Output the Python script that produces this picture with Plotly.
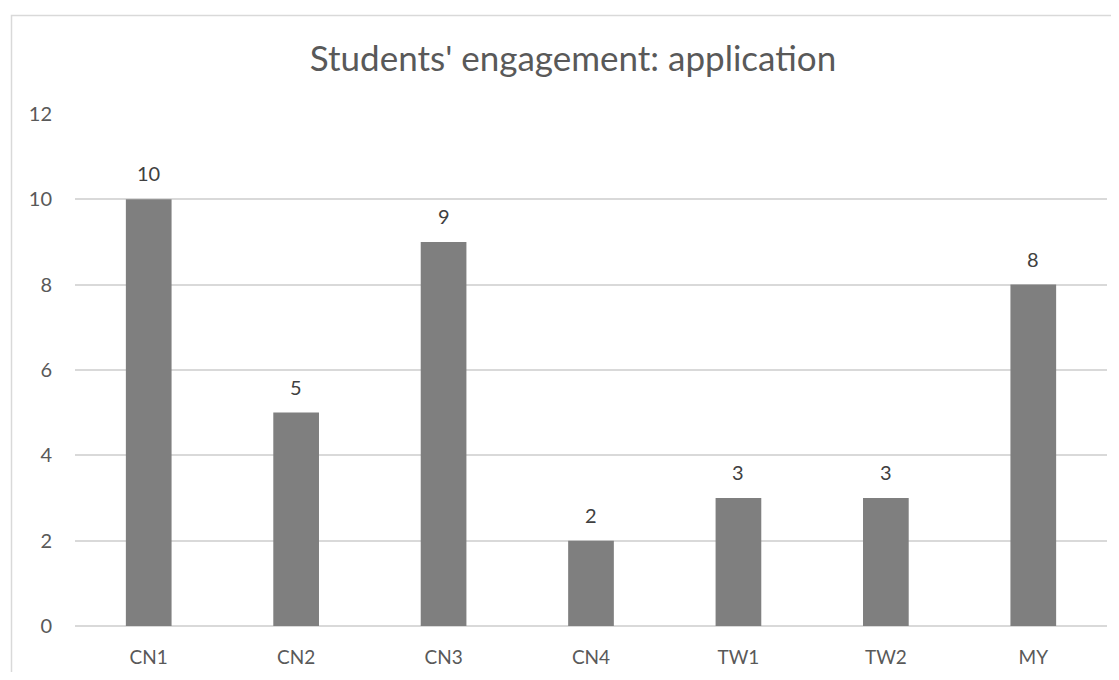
import plotly.graph_objects as go

categories = ["CN1", "CN2", "CN3", "CN4", "TW1", "TW2", "MY"]
values = [10, 5, 9, 2, 3, 3, 8]
y_ticks = [0, 2, 4, 6, 8, 10, 12]

# page has an 8px body margin; figure coordinates are offset by it
W, H = 1103, 664
L, R, T, B = 67, 4, 105, 44
pw = W - L - R
ph = H - T - B
FONT = "Lato, Open Sans, sans-serif"

fig = go.Figure(go.Bar(
    x=categories, y=values,
    marker=dict(color="#7f7f7f", line=dict(width=0)),
    hoverinfo="x+y",
))

for c, v in zip(categories, values):
    fig.add_annotation(x=c, y=v, xref="x", yref="y", text=str(v), showarrow=False,
                       yanchor="bottom", yshift=12,
                       font=dict(family=FONT, size=20, color="#404040"))

fig.update_layout(
    width=W, height=H,
    margin=dict(l=L, r=R, t=T, b=B),
    paper_bgcolor="white", plot_bgcolor="white",
    bargap=0.69,
    showlegend=False,
    font=dict(family=FONT, color="#595959"),
    title=dict(text="Students' engagement: application",
               x=565 / W, xanchor="center", y=1 - 51 / H, yanchor="middle",
               font=dict(size=35, color="#595959")),
    xaxis=dict(showgrid=False, showline=False, zeroline=False,
               tickfont=dict(size=19, color="#595959"), ticks="",
               ticklabelstandoff=18),
    yaxis=dict(range=[0, 12.02], tickvals=y_ticks, showgrid=True, gridcolor="#d9d9d9",
               gridwidth=1.5, zeroline=True, zerolinecolor="#d9d9d9", zerolinewidth=1.5,
               showline=False, ticks="", tickfont=dict(size=20, color="#595959"),
               ticklabelstandoff=22),
    shapes=[dict(type="rect", xref="paper", yref="paper",
                 x0=(3.5 - L) / pw, x1=1 + 40 / pw,
                 y0=-70 / ph, y1=1 + (T - 7) / ph,
                 line=dict(color="#d9d9d9", width=1.5), fillcolor="rgba(0,0,0,0)",
                 layer="below")],
)

fig.write_html("out.html")
